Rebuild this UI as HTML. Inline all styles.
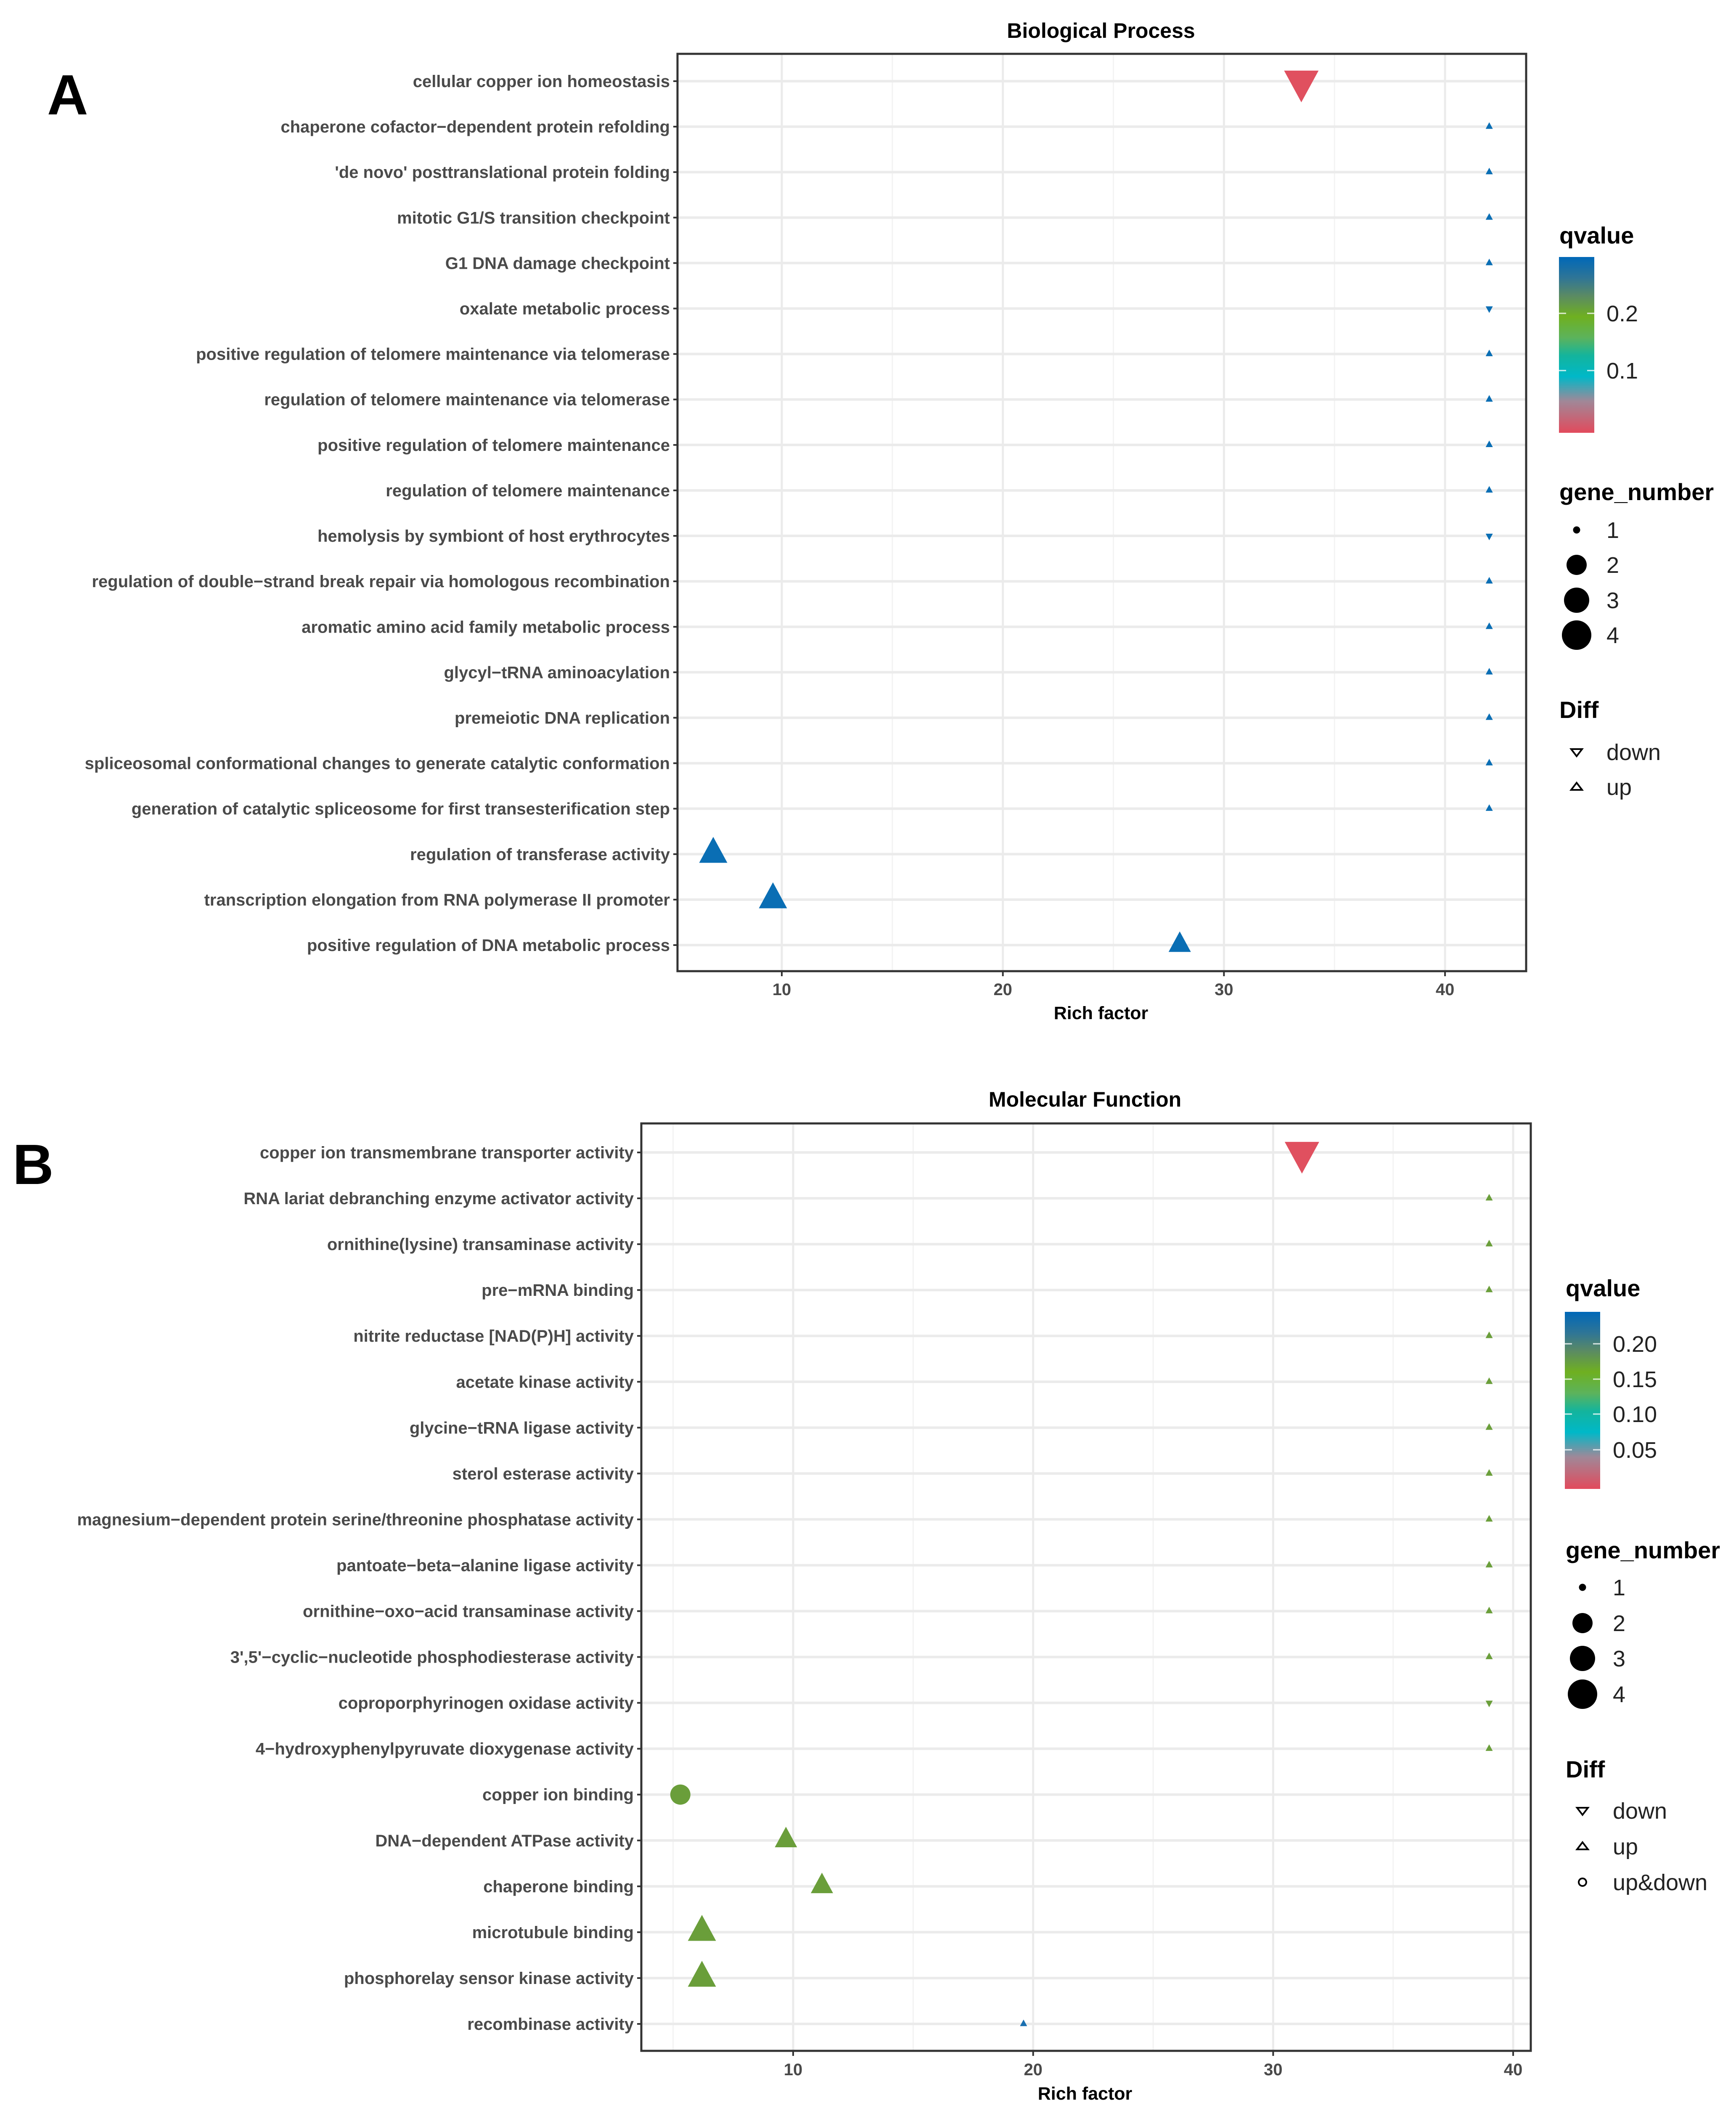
<!DOCTYPE html>
<html><head><meta charset="utf-8"><style>
html,body{margin:0;padding:0;background:#fff;width:4128px;height:5026px;overflow:hidden}
svg{display:block}
text{font-family:"Liberation Sans",Arial,sans-serif}
</style></head><body>
<svg id="chart" width="4128" height="5026" viewBox="0 0 4128 5026" xmlns="http://www.w3.org/2000/svg">
<defs>
<linearGradient id="qgrad" x1="0" y1="0" x2="0" y2="1">
<stop offset="0" stop-color="#0068b8"/>
<stop offset="0.12" stop-color="#2f7596"/>
<stop offset="0.22" stop-color="#5a8a64"/>
<stop offset="0.34" stop-color="#6fb020"/>
<stop offset="0.46" stop-color="#5cb35c"/>
<stop offset="0.56" stop-color="#14b49c"/>
<stop offset="0.68" stop-color="#00b8c8"/>
<stop offset="0.82" stop-color="#a08898"/>
<stop offset="1" stop-color="#e24a5c"/>
</linearGradient>
</defs>
<g id="root"></g>
</svg>
<script>
// ---------- Panel A data ----------
const catsA = ["cellular copper ion homeostasis","chaperone cofactor\u2212dependent protein refolding","'de novo' posttranslational protein folding","mitotic G1/S transition checkpoint","G1 DNA damage checkpoint","oxalate metabolic process","positive regulation of telomere maintenance via telomerase","regulation of telomere maintenance via telomerase","positive regulation of telomere maintenance","regulation of telomere maintenance","hemolysis by symbiont of host erythrocytes","regulation of double\u2212strand break repair via homologous recombination","aromatic amino acid family metabolic process","glycyl\u2212tRNA aminoacylation","premeiotic DNA replication","spliceosomal conformational changes to generate catalytic conformation","generation of catalytic spliceosome for first transesterification step","regulation of transferase activity","transcription elongation from RNA polymerase II promoter","positive regulation of DNA metabolic process"];
const richA = [33.5,42,42,42,42,42,42,42,42,42,42,42,42,42,42,42,42,6.9,9.6,28];
const genesA = [4,1,1,1,1,1,1,1,1,1,1,1,1,1,1,1,1,3,3,2];
const diffA = ["down","up","up","up","up","down","up","up","up","up","down","up","up","up","up","up","up","up","up","up"];
const qA = [0.005,0.28,0.28,0.28,0.28,0.28,0.28,0.28,0.28,0.28,0.28,0.28,0.28,0.28,0.28,0.28,0.28,0.28,0.28,0.28];
const ticksA = [10,20,30,40];

// ---------- Panel B data ----------
const catsB = ["copper ion transmembrane transporter activity","RNA lariat debranching enzyme activator activity","ornithine(lysine) transaminase activity","pre\u2212mRNA binding","nitrite reductase [NAD(P)H] activity","acetate kinase activity","glycine\u2212tRNA ligase activity","sterol esterase activity","magnesium\u2212dependent protein serine/threonine phosphatase activity","pantoate\u2212beta\u2212alanine ligase activity","ornithine\u2212oxo\u2212acid transaminase activity","3',5'\u2212cyclic\u2212nucleotide phosphodiesterase activity","coproporphyrinogen oxidase activity","4\u2212hydroxyphenylpyruvate dioxygenase activity","copper ion binding","DNA\u2212dependent ATPase activity","chaperone binding","microtubule binding","phosphorelay sensor kinase activity","recombinase activity"];
const richB = [31.2,39,39,39,39,39,39,39,39,39,39,39,39,39,5.3,9.7,11.2,6.2,6.2,19.6];
const genesB = [4,1,1,1,1,1,1,1,1,1,1,1,1,1,2,2,2,3,3,1];
const diffB = ["down","up","up","up","up","up","up","up","up","up","up","up","down","up","up&down","up","up","up","up","up"];
const qB = [0.005,0.16,0.16,0.16,0.16,0.16,0.16,0.16,0.16,0.16,0.16,0.16,0.16,0.16,0.16,0.16,0.16,0.16,0.16,0.23];
const ticksB = [10,20,30,40];

const NS = "http://www.w3.org/2000/svg";
const root = document.getElementById('root');
function mk(tag, attrs, parent, txt){
  const e = document.createElementNS(NS, tag);
  for (const k in attrs) e.setAttribute(k, attrs[k]);
  if (txt !== undefined) e.textContent = txt;
  (parent||root).appendChild(e);
  return e;
}
function triWidth(g){ return [0,17,53,67,82][g]; }
function circD(g){ return [0,17,48,60,70][g]; }

function panel(cfg){
  const g = mk('g',{});
  
  
  const {L,R,T,B,x10,ppu,y0,y1} = cfg;
  const xs = v => x10 + (v-10)*ppu;
  const n = cfg.cats.length;
  const ys = i => y0 + i*(y1-y0)/(n-1);
  for (let v=5; v<=45; v+=10){ const x=xs(v); if(x>L && x<R){ const l=mk('line',{x1:x,x2:x,y1:T,y2:B,stroke:'#f3f3f3','stroke-width':3},g);   } }
  cfg.ticks.forEach(v=>{ const x=xs(v); const l=mk('line',{x1:x,x2:x,y1:T,y2:B,stroke:'#ebebeb','stroke-width':5},g);   });
  cfg.cats.forEach((c,i)=>{ const y=ys(i); const l=mk('line',{x1:L,x2:R,y1:y,y2:y,stroke:'#ebebeb','stroke-width':6},g);   });
  cfg.cats.forEach((c,i)=>{
    const x=xs(cfg.rich[i]), y=ys(i), col=cfg.color(cfg.q[i]), gn=cfg.genes[i];
    let el;
    if (cfg.diff[i]==='up&down'){
      const d=circD(gn);
      el=mk('ellipse',{cx:x,cy:y,rx:d/2,ry:d/2,fill:col},g);
    } else {
      const w=triWidth(gn), h=w*0.92;
      const pts = cfg.diff[i]==='up'
        ? `${x-w/2},${y+h/3} ${x+w/2},${y+h/3} ${x},${y-2*h/3}`
        : `${x-w/2},${y-h/3} ${x+w/2},${y-h/3} ${x},${y+2*h/3}`;
      el=mk('polygon',{points:pts,fill:col},g);
    }
    
    
    const tk=mk('line',{x1:L-10,x2:L,y1:y,y2:y,stroke:'#333','stroke-width':4},g);
     
    const t=mk('text',{x:L-18,y:y+14,'text-anchor':'end','font-size':40,'font-weight':'bold',fill:'#4a4a4a'},g,c);
     
  });
  const bd=mk('rect',{x:L,y:T,width:R-L,height:B-T,fill:'none',stroke:'#333','stroke-width':5},g);
   
  cfg.ticks.forEach(v=>{ const x=xs(v);
    const tk=mk('line',{x1:x,x2:x,y1:B,y2:B+12,stroke:'#333','stroke-width':4},g);
     
    const t=mk('text',{x:x,y:cfg.tickY+14,'text-anchor':'middle','font-size':40,'font-weight':'bold',fill:'#4a4a4a'},g,String(v));
     
  });
  const xt=mk('text',{x:cfg.titleX,y:cfg.xTitleY+15,'text-anchor':'middle','font-size':43,'font-weight':'bold',fill:'#000'},g,'Rich factor');
   
  const tt=mk('text',{x:cfg.titleX,y:cfg.titleY+18,'text-anchor':'middle','font-size':50,'font-weight':'bold',fill:'#000'},g,cfg.title);
   
  const lt=mk('text',{x:cfg.letterX,y:cfg.letterY,'font-size':135,'font-weight':'bold',fill:'#000'},g,cfg.letter);
   
}

function qcolorA(q){ return q<0.05 ? '#e0505f' : '#0a6eb4'; }
function qcolorB(q){ return q<0.05 ? '#e0505f' : (q>0.2 ? '#1a6fb0' : '#6a9e3a'); }

panel({name:'panel-a-biological-process',cats:catsA,rich:richA,genes:genesA,diff:diffA,q:qA,ticks:ticksA,color:qcolorA,
  L:1611,R:3629,T:128,B:2309,x10:1859,ppu:52.57,y0:193,y1:2247,tickY:2352,xTitleY:2408,titleX:2618,titleY:72,
  title:'Biological Process',letter:'A',letterX:112,letterY:272});
panel({name:'panel-b-molecular-function',cats:catsB,rich:richB,genes:genesB,diff:diffB,q:qB,ticks:ticksB,color:qcolorB,
  L:1525,R:3640,T:2671,B:4876,x10:1886,ppu:57.07,y0:2740,y1:4812,tickY:4920,xTitleY:4977,titleX:2580,titleY:2613,
  title:'Molecular Function',letter:'B',letterX:30,letterY:2815});

function legend(cfg){
  const g=mk('g',{});
  
  
  const t1=mk('text',{x:cfg.x,y:cfg.qTitle,'font-size':56,'font-weight':'bold',fill:'#000'},g,'qvalue');
   
  const bar=mk('rect',{x:cfg.barX,y:cfg.barT,width:84,height:cfg.barB-cfg.barT,fill:'url(#qgrad)'},g);
   
  cfg.qLabels.forEach((lab,i)=>{
    const y=cfg.qYs[i];
    mk('line',{x1:cfg.barX,x2:cfg.barX+17,y1:y,y2:y,stroke:'#fff','stroke-width':3,opacity:0.8},g);
    mk('line',{x1:cfg.barX+67,x2:cfg.barX+84,y1:y,y2:y,stroke:'#fff','stroke-width':3,opacity:0.8},g);
    const t=mk('text',{x:cfg.labX,y:y+19,'font-size':54,fill:'#222'},g,lab);
     
  });
  const t2=mk('text',{x:cfg.x,y:cfg.gTitle,'font-size':56,'font-weight':'bold',fill:'#000'},g,'gene_number');
   
  [1,2,3,4].forEach((n,i)=>{
    const y=cfg.gYs[i];
    const c=mk('circle',{cx:cfg.symX,cy:y,r:circD(n)/2,fill:'#000'},g);
     
    const t=mk('text',{x:cfg.labX,y:y+19,'font-size':54,fill:'#222'},g,String(n));
     
  });
  const t3=mk('text',{x:cfg.x,y:cfg.dTitle,'font-size':56,'font-weight':'bold',fill:'#000'},g,'Diff');
   
  cfg.diffs.forEach((d,i)=>{
    const y=cfg.dYs[i], x=cfg.symX;
    let s;
    if(d==='down') s=mk('polygon',{points:`${x-13},${y-7} ${x+13},${y-7} ${x},${y+10}`,fill:'none',stroke:'#000','stroke-width':4},g);
    else if(d==='up') s=mk('polygon',{points:`${x-13},${y+7} ${x+13},${y+7} ${x},${y-10}`,fill:'none',stroke:'#000','stroke-width':4},g);
    else s=mk('circle',{cx:x,cy:y,r:9,fill:'none',stroke:'#000','stroke-width':4},g);
     
    const t=mk('text',{x:cfg.labX,y:y+19,'font-size':54,fill:'#222'},g,d);
     
  });
}
legend({name:'legend-a',x:3708,qTitle:579,barX:3707,barT:611,barB:1029,qLabels:['0.2','0.1'],qYs:[745,881],labX:3820,
  gTitle:1189,gYs:[1260,1343,1427,1510],symX:3749,dTitle:1707,dYs:[1788,1871],diffs:['down','up']});
legend({name:'legend-b',x:3723,qTitle:3082,barX:3721,barT:3119,barB:3540,qLabels:['0.20','0.15','0.10','0.05'],qYs:[3195,3279,3362,3447],labX:3835,
  gTitle:3705,gYs:[3774,3859,3943,4028],symX:3763,dTitle:4226,dYs:[4305,4390,4475],diffs:['down','up','up&down']});
</script>
</body></html>
